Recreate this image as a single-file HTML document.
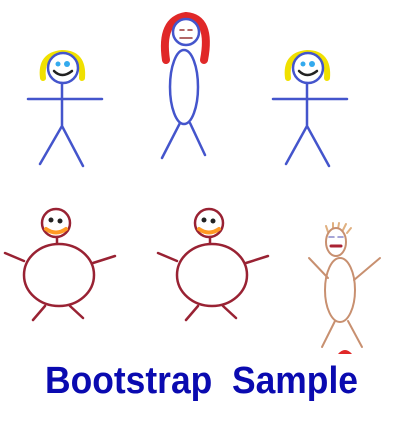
<!DOCTYPE html>
<html><head><meta charset="utf-8"><style>html,body{margin:0;padding:0;background:#fff}svg{display:block}</style></head>
<body>
<svg width="414" height="424" viewBox="0 0 414 424" xmlns="http://www.w3.org/2000/svg" stroke-linecap="round" fill="none">
 <g stroke="#4455cc" stroke-width="2.5">
  <path d="M43 78 Q40 55 62 53 Q84 53 82 78" stroke="#f0e000" stroke-width="6"/>
  <circle cx="63" cy="68" r="15" fill="#fff"/>
  <circle cx="58" cy="64" r="2.5" fill="#33aaee" stroke="none"/><circle cx="67" cy="64" r="3" fill="#33aaee" stroke="none"/>
  <path d="M54 71 Q62 79 72 71" stroke="#222" stroke-width="2.5"/>
  <path d="M62 83 V126 M28 99 H102 M62 126 L40 164 M62 126 L83 166"/>
 </g>
 <g stroke="#4455cc" stroke-width="2.5">
  <path d="M166 60 Q160 20 186 16 Q212 18 204 60" stroke="#e02828" stroke-width="8"/>
  <circle cx="186" cy="32" r="13" fill="#fff"/>
  <path d="M180 30 h4 M188 30 h4 M180 38 h12" stroke="#993333" stroke-width="1.5"/>
  <ellipse cx="184" cy="87" rx="14" ry="37" fill="#fff"/>
  <path d="M180 123 L162 158 M190 123 L205 155"/>
 </g>
 <g stroke="#4455cc" stroke-width="2.5">
  <path d="M288 78 Q285 55 307 53 Q329 53 327 78" stroke="#f0e000" stroke-width="6"/>
  <circle cx="308" cy="68" r="15" fill="#fff"/>
  <circle cx="303" cy="64" r="2.5" fill="#33aaee" stroke="none"/><circle cx="312" cy="64" r="3" fill="#33aaee" stroke="none"/>
  <path d="M299 71 Q307 79 317 71" stroke="#222" stroke-width="2.5"/>
  <path d="M307 83 V126 M273 99 H347 M307 126 L286 164 M307 126 L329 166"/>
 </g>
 <g stroke="#992233" stroke-width="2.5">
  <circle cx="56" cy="223" r="14" fill="#fff"/>
  <path d="M46 229 Q56 236 66 229" stroke="#ff9922" stroke-width="4"/>
  <circle cx="51" cy="220" r="2.5" fill="#222" stroke="none"/><circle cx="60" cy="221" r="2.5" fill="#222" stroke="none"/>
  <path d="M57 237 V243"/>
  <ellipse cx="59" cy="275" rx="35" ry="31" fill="#fff"/>
  <path d="M5 253 L24 261 M93 263 L115 256 M45 306 L33 320 M70 306 L83 318"/>
 </g>
 <g stroke="#992233" stroke-width="2.5">
  <circle cx="209" cy="223" r="14" fill="#fff"/>
  <path d="M199 229 Q209 236 219 229" stroke="#ff9922" stroke-width="4"/>
  <circle cx="204" cy="220" r="2.5" fill="#222" stroke="none"/><circle cx="213" cy="221" r="2.5" fill="#222" stroke="none"/>
  <path d="M210 237 V243"/>
  <ellipse cx="212" cy="275" rx="35" ry="31" fill="#fff"/>
  <path d="M158 253 L177 261 M246 263 L268 256 M198 306 L186 320 M223 306 L236 318"/>
 </g>
 <g stroke="#c89070" stroke-width="2">
  <path d="M328 232 l-2 -6 M333 229 l0 -6 M338 229 l1 -6 M343 230 l3 -6 M347 233 l4 -5" stroke="#e0b080"/>
  <ellipse cx="336" cy="242" rx="10" ry="14" fill="#fff"/>
  <path d="M329 237 h5 M338 237 h5" stroke="#8888cc" stroke-width="1.5"/>
  <path d="M331 246 h10" stroke="#aa2233" stroke-width="3"/>
  <ellipse cx="340" cy="290" rx="15" ry="32" fill="#fff"/>
  <path d="M309 258 L328 278 M380 258 L354 280 M335 321 L322 347 M348 321 L362 347"/>
  <path d="M338 354 Q345 346 352 354 Z" fill="#e02828" stroke="none"/>
 </g>
 <text x="45" y="393" textLength="313" lengthAdjust="spacingAndGlyphs" font-family="Liberation Sans, sans-serif" font-weight="bold" font-size="38" fill="#0a0ab0" xml:space="preserve">Bootstrap  Sample</text>
</svg>
</body></html>
